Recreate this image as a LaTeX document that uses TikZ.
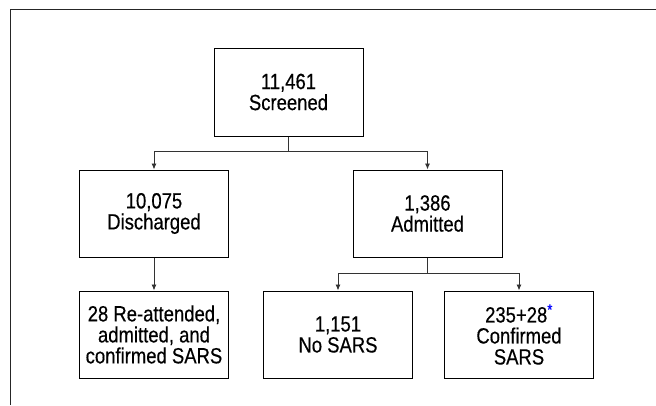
\documentclass[tikz,border=0pt]{standalone}
\usepackage{fontspec}
\setmainfont[FakeStretch=0.84,FakeBold=0.4]{Liberation Sans}
\usetikzlibrary{arrows,arrows.meta,positioning,calc}

\tikzset{
  stage/.style={draw=black,line width=1pt,minimum width=149pt,minimum height=88pt,
    align=center,inner sep=0pt,font=\fontsize{22}{21}\selectfont},
  flow/.style={draw=black!80,line width=0.9pt,-{Latex[length=6pt,width=5pt]}},
  link/.style={draw=black!80,line width=0.9pt}
}

\begin{document}
\begin{tikzpicture}[x=1pt,y=-1pt]
            \useasboundingbox (0,0) rectangle (656,405);

            % Frame
            \draw[black!85,line width=1pt] (10,405) -- (10,9) -- (656,9);

            % Top box
            \node[stage] (screened) at (288.5,92) {11,461\\Screened};

            % Middle boxes
            \node[stage,minimum height=87pt] (discharged) at (154,213.5) {10,075\\Discharged};
            \node[stage,minimum height=87pt] (admitted) at (427.5,213.5) {1,386\\Admitted};

            % Bottom boxes
            \node[stage,minimum height=87pt] (reattended) at (154,334.5) {28 Re-attended,\\admitted, and\\confirmed SARS};
            \node[stage,minimum height=87pt] (nosars) at (338,334.5) {1,151\\No SARS};
            \node[stage,minimum height=87pt] (confirmed) at (519,334.5) {235+28\textsuperscript{\textcolor{blue}{*}}\\Confirmed\\SARS};

            % Split points
            \coordinate (split1) at (288.5,151);
            \coordinate (split2) at (427.5,273);

            % Arcs from top box
            \draw[link] (screened.south) -- (split1);
            \draw[flow] (split1) -| (discharged.north);
            \draw[flow] (split1) -| (admitted.north);

            % Arcs from middle boxes
            \draw[flow] (discharged.south) -- (reattended.north);
            \draw[link] (admitted.south) -- (split2);
            \draw[flow] (split2) -| (nosars.north);
            \draw[flow] (split2) -| (confirmed.north);

        \end{tikzpicture}
\end{document}
